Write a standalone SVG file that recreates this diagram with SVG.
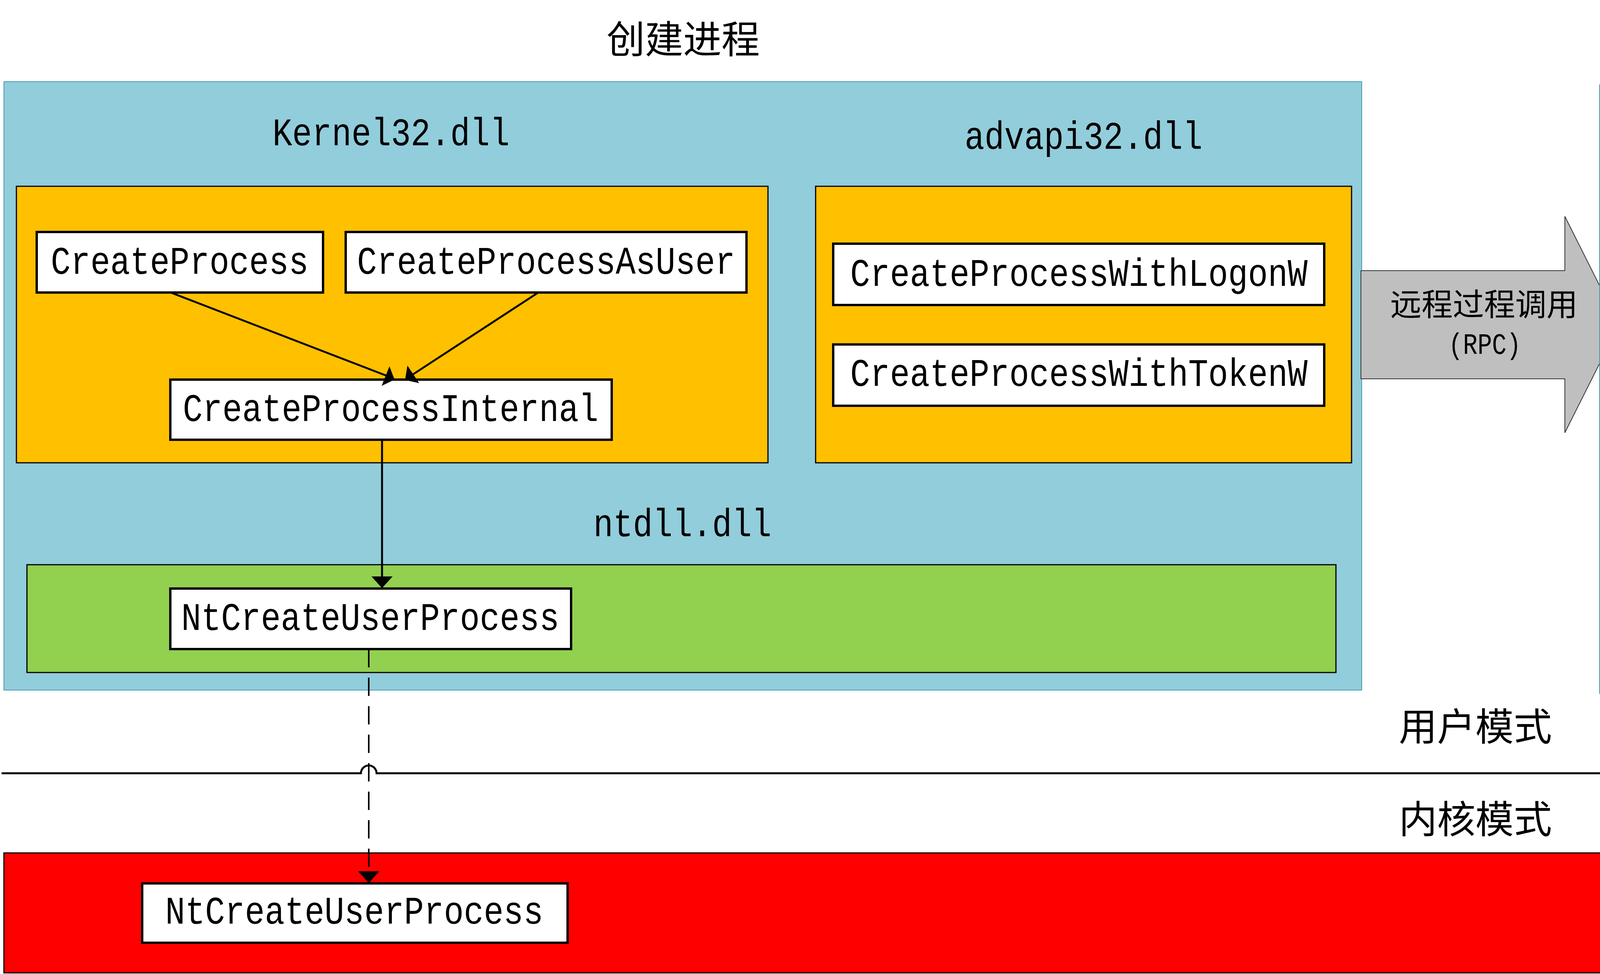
<svg xmlns="http://www.w3.org/2000/svg" width="5663" height="2494" viewBox="0 0 5663 2494">
<style>
.lay{fill:#92CDDC;stroke:#4A9BB0;stroke-width:2}
.ora{fill:#FFC000;stroke:#000;stroke-width:3}
.grn{fill:#92D050;stroke:#000;stroke-width:3}
.red{fill:#FF0000;stroke:#000;stroke-width:3}
.fn{fill:#fff;stroke:#000;stroke-width:6}
.m{font-family:"Liberation Mono","DejaVu Sans Mono",monospace;font-size:100px;fill:#000}
.c{text-anchor:middle}
.cjk{font-family:"Noto Sans CJK SC","Noto Sans",sans-serif;font-size:98px;fill:#000;text-anchor:middle}
.ln{fill:none;stroke:#000;stroke-width:5}
.dash{fill:none;stroke:#000;stroke-width:4;stroke-dasharray:47 26}
</style>
<defs>
<marker id="ah" markerUnits="userSpaceOnUse" markerWidth="30" markerHeight="54" viewBox="0 0 30 54" refX="15" refY="27" orient="auto">
<path d="M0,0 L30,27 L0,54 Z" fill="#000"/>
</marker>
</defs>
<rect width="5663" height="2494" fill="#fff"/>

<text class="cjk" x="1749" y="136">创建进程</text>
<text class="m c" x="4880" y="108" textLength="557" lengthAdjust="spacingAndGlyphs">svchost.exe</text>

<g id="process-left">
<rect class="lay" x="10" y="209" width="3476" height="1558"/>
<text class="m c" x="1001" y="372" textLength="607" lengthAdjust="spacingAndGlyphs">Kernel32.dll</text>
<text class="m c" x="2774" y="381" textLength="609" lengthAdjust="spacingAndGlyphs">advapi32.dll</text>
<text class="m c" x="1747" y="1373" textLength="456" lengthAdjust="spacingAndGlyphs">ntdll.dll</text>
</g>
<g id="kernel32-left"><rect class="ora" x="42" y="477" width="1924" height="708"/></g>
<g id="advapi32"><rect class="ora" x="2088" y="477" width="1372" height="708"/></g>
<g id="ntdll-left"><rect class="grn" x="69" y="1446" width="3351" height="276"/></g>

<g id="CreateProcess"><rect class="fn" x="94" y="594" width="733" height="155"/>
<text class="m c" x="460" y="701" textLength="660" lengthAdjust="spacingAndGlyphs">CreateProcess</text></g>
<g id="CreateProcessAsUser"><rect class="fn" x="885" y="594" width="1026" height="155"/>
<text class="m c" x="1398" y="701" textLength="968" lengthAdjust="spacingAndGlyphs">CreateProcessAsUser</text></g>
<g id="CreateProcessInternal"><rect class="fn" x="436" y="972" width="1130" height="154"/>
<text class="m c" x="1000" y="1078" textLength="1064" lengthAdjust="spacingAndGlyphs">CreateProcessInternal</text></g>
<g id="CreateProcessWithLogonW"><rect class="fn" x="2133" y="624" width="1257" height="157"/>
<text class="m c" x="2762" y="732" textLength="1171" lengthAdjust="spacingAndGlyphs">CreateProcessWithLogonW</text></g>
<g id="CreateProcessWithTokenW"><rect class="fn" x="2133" y="882" width="1257" height="157"/>
<text class="m c" x="2762" y="988" textLength="1171" lengthAdjust="spacingAndGlyphs">CreateProcessWithTokenW</text></g>
<g id="NtCreateUserProcess-left"><rect class="fn" x="436" y="1507" width="1026" height="155"/>
<text class="m c" x="948" y="1613" textLength="968" lengthAdjust="spacingAndGlyphs">NtCreateUserProcess</text></g>

<g id="rpc">
<polygon points="3484,693 4006,693 4006,554 4145,831 4006,1108 4006,970 3484,970" fill="#BFBFBF" stroke="#333" stroke-width="2"/>
<text class="cjk" x="3799" y="808" style="font-size:80px">远程过程调用</text>
<text class="m c" x="3801" y="906" style="font-size:76px" textLength="186" lengthAdjust="spacingAndGlyphs">(RPC)</text>
</g>

<g id="svchost">
<rect class="lay" x="4095" y="217" width="1564" height="1559"/>
<text class="m c" x="4880" y="388" textLength="605" lengthAdjust="spacingAndGlyphs">seclogon.dll</text>
<text class="m" x="4192" y="976" textLength="607" lengthAdjust="spacingAndGlyphs">Kernel32.dll</text>
<text class="m" x="4210" y="1403" textLength="456" lengthAdjust="spacingAndGlyphs">ntdll.dll</text>
</g>
<g id="seclogon"><rect class="ora" x="4158" y="486" width="1439" height="392"/></g>
<g id="kernel32-right"><rect class="ora" x="4158" y="1020" width="1439" height="277"/></g>
<g id="ntdll-right"><rect class="grn" x="4158" y="1451" width="1439" height="277"/></g>
<g id="SlrCreateProcessWithLogon"><rect class="fn" x="4205" y="635" width="1328" height="156"/>
<text class="m c" x="4869" y="740" textLength="1268" lengthAdjust="spacingAndGlyphs">SlrCreateProcessWithLogon</text></g>
<g id="CreateProcessAsUser-right"><rect class="fn" x="4364" y="1082" width="1028" height="155"/>
<text class="m c" x="4877" y="1186" textLength="968" lengthAdjust="spacingAndGlyphs">CreateProcessAsUser</text></g>
<g id="NtCreateUserProcess-right"><rect class="fn" x="4206" y="1506" width="1093" height="156"/>
<text class="m c" x="4752" y="1613" textLength="968" lengthAdjust="spacingAndGlyphs">NtCreateUserProcess</text></g>

<text class="cjk" x="3777" y="1896">用户模式</text>
<text class="cjk" x="3777" y="2133">内核模式</text>

<g id="kernel">
<rect class="red" x="10" y="2184" width="5649" height="307"/>
</g>
<g id="NtCreateUserProcess-kernel-left"><rect class="fn" x="364" y="2262" width="1089" height="152"/>
<text class="m c" x="907" y="2365" textLength="968" lengthAdjust="spacingAndGlyphs">NtCreateUserProcess</text></g>
<g id="NtCreateUserProcess-kernel-right"><rect class="fn" x="4332" y="2262" width="1091" height="152"/>
<text class="m c" x="4876" y="2365" textLength="968" lengthAdjust="spacingAndGlyphs">NtCreateUserProcess</text></g>

<g id="connectors">
<path class="ln" d="M4,1980 H924 A20,20 0 0 1 964,1980 H4795 A20,20 0 0 1 4835,1981 L5656,1982"/>
<line class="ln" x1="437" y1="749" x2="992" y2="963"/>
<polygon points="997,938 1010,972 977,988" fill="#000"/>
<line class="ln" x1="1378" y1="749" x2="1052" y2="962"/>
<polygon points="1043,936 1073,981 1037,973" fill="#000"/>
<line class="ln" x1="978" y1="1126" x2="978" y2="1491" marker-end="url(#ah)"/>
<line class="ln" x1="4874" y1="791" x2="4874" y2="1005" marker-end="url(#ah)"/>
<line class="ln" x1="4874" y1="1237" x2="4874" y2="1491" marker-end="url(#ah)"/>
<line class="dash" x1="944" y1="1662" x2="944" y2="2246" marker-end="url(#ah)"/>
<line class="dash" x1="4815" y1="1662" x2="4815" y2="2246" marker-end="url(#ah)"/>
</g>
</svg>
